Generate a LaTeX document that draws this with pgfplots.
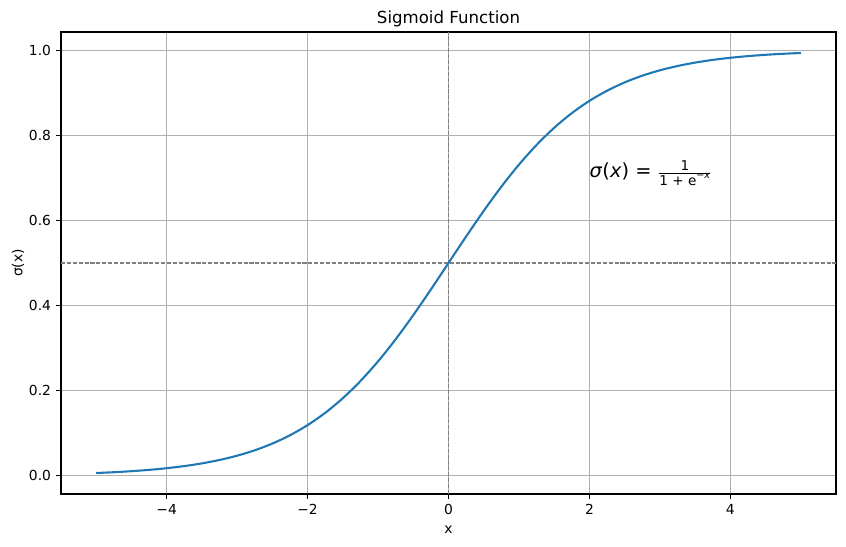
\documentclass[border=0pt]{standalone}
\usepackage{pgfplots}
\pgfplotsset{compat=1.18}
\usepackage{fontspec}
\setmainfont{DejaVu Sans}
\definecolor{mplblue}{HTML}{1F77B4}
\definecolor{gridgray}{HTML}{B0B0B0}
\begin{document}
\begin{tikzpicture}
\begin{axis}[
  name=ax,
  scale only axis,
  width=558bp, height=332.64bp,
  xmin=-5.5, xmax=5.5,
  ymin=-0.0426, ymax=1.0426,
  xtick={-4,-2,0,2,4},
  xticklabels={−4,−2,0,2,4},
  ytick={0,0.2,0.4,0.6,0.8,1.0},
  yticklabels={0.0,0.2,0.4,0.6,0.8,1.0},
  tick align=outside,
  major tick length=3.5bp,
  tick style={black, line width=0.8bp},
  xtick pos=bottom, ytick pos=left,
  axis line style={line width=0.8bp},
  grid=major,
  major grid style={gridgray, line width=0.8bp},
  ticklabel style={font=\fontsize{10}{12}\selectfont},
  xticklabel style={inner sep=0pt, yshift=-3.5bp, anchor=north},
  yticklabel style={inner sep=0pt, xshift=-3.5bp, anchor=east},
  xlabel={x},
  ylabel={σ(x)},
  label style={font=\fontsize{10}{12}\selectfont},
  xlabel style={at={([yshift=-26bp]rel axis cs:0.5,0)}, anchor=center},
  ylabel style={at={([xshift=-31bp]rel axis cs:0,0.5)}, anchor=center},
  clip=false,
]
\addplot[gray, line width=0.8bp, dash pattern=on 2.96bp off 1.28bp] coordinates {(-5.5,0.5) (5.5,0.5)};
\addplot[gray, line width=0.8bp, dash pattern=on 2.96bp off 1.28bp] coordinates {(0,-0.0426) (0,1.0426)};
\addplot[mplblue, line width=1.5bp, smooth] coordinates {
(-5,0.006693) (-4.75,0.008577) (-4.5,0.010987) (-4.25,0.014064) (-4,0.017986)
(-3.75,0.022977) (-3.5,0.029312) (-3.25,0.037327) (-3,0.047426) (-2.75,0.060087)
(-2.5,0.075858) (-2.25,0.095349) (-2,0.119203) (-1.75,0.148047) (-1.5,0.182426)
(-1.25,0.222700) (-1,0.268941) (-0.75,0.320821) (-0.5,0.377541) (-0.25,0.437823)
(0,0.5)
(0.25,0.562177) (0.5,0.622459) (0.75,0.679179) (1,0.731059) (1.25,0.777300)
(1.5,0.817574) (1.75,0.851953) (2,0.880797) (2.25,0.904651) (2.5,0.924142)
(2.75,0.939913) (3,0.952574) (3.25,0.962673) (3.5,0.970688) (3.75,0.977023)
(4,0.982014) (4.25,0.985936) (4.5,0.989013) (4.75,0.991423) (5,0.993307)
};
\node[anchor=base west, inner sep=0pt, font=\fontsize{14}{16}\selectfont] at (axis cs:2,0.7)
  {\textit{σ}(\textit{x}) = $\frac{\mbox{\fontsize{9.8}{11}\selectfont 1}}{\mbox{\fontsize{9.8}{11}\selectfont 1 + e\raisebox{0.45em}{\fontsize{7}{8}\selectfont −\textit{x}}}}$};
\end{axis}
\node[anchor=base, inner sep=0pt, font=\fontsize{12}{14}\selectfont] at ([yshift=5.76bp]ax.north) {Sigmoid Function};
\pgfresetboundingbox
\path[use as bounding box] (-43.92bp,-38.16bp) rectangle (565.2bp,355.68bp);
\end{tikzpicture}
\end{document}
